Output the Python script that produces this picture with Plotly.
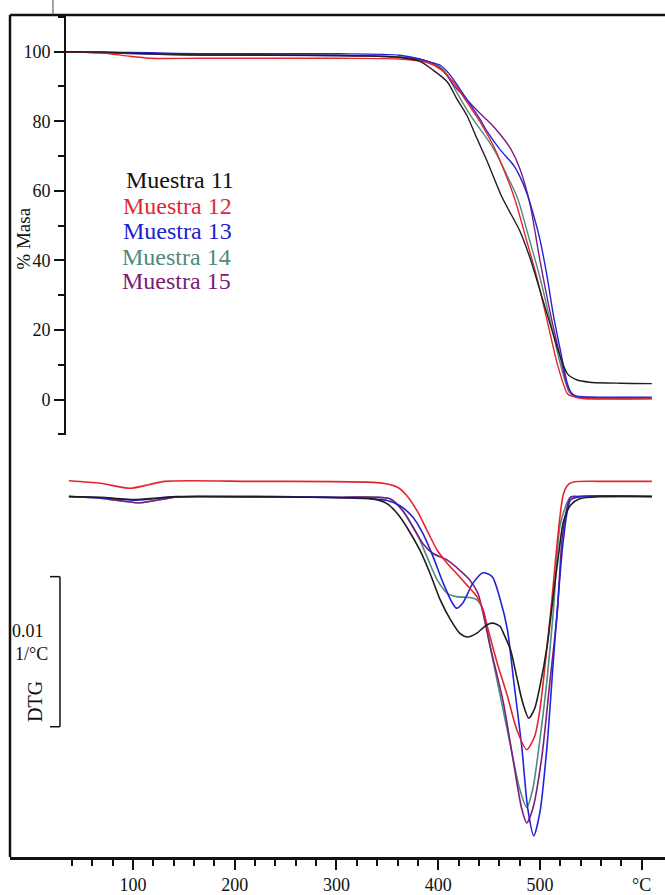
import plotly.graph_objects as go

# ---------------- data ----------------
# TGA (% mass) vs temperature (°C)
tga_T_11 = [33, 68, 117, 166, 264, 333, 362, 382, 395, 409, 418, 428, 438, 448, 463, 480, 490, 500, 510, 520, 527, 536, 549, 579, 610]
tga_M_11 = [100.0, 99.9, 99.4, 99.1, 99.0, 98.8, 98.4, 97.2, 94.7, 91.3, 86.6, 81.8, 75.1, 68.6, 58.0, 48.6, 40.9, 31.4, 21.7, 12.3, 7.4, 5.7, 5.0, 4.7, 4.6]

tga_T_12 = [33, 68, 97, 117, 166, 303, 362, 389, 402, 415, 428, 441, 454, 461, 475, 487, 497, 507, 517, 527, 532, 539, 569, 610]
tga_M_12 = [100.0, 99.7, 98.7, 98.1, 98.1, 98.1, 97.9, 96.9, 95.0, 91.2, 85.6, 79.9, 73.1, 68.5, 57.9, 45.6, 35.1, 22.8, 10.3, 1.7, 0.9, 0.4, 0.2, 0.2]

tga_T_13 = [33, 117, 166, 303, 362, 382, 389, 402, 412, 421, 434, 441, 448, 461, 474, 480, 488, 495, 500, 507, 513, 520, 527, 532, 539, 559, 610]
tga_M_13 = [100.0, 99.7, 99.4, 99.4, 99.0, 97.9, 97.2, 96.1, 93.2, 89.4, 83.7, 80.6, 77.1, 71.8, 67.4, 64.3, 58.6, 51.7, 46.0, 35.4, 24.6, 14.3, 4.6, 1.4, 0.9, 0.7, 0.7]

tga_T_14 = [33, 117, 166, 303, 362, 389, 402, 409, 418, 434, 448, 458, 468, 478, 490, 500, 510, 520, 529, 535, 544, 610]
tga_M_14 = [100.0, 99.3, 99.0, 98.9, 98.4, 97.3, 95.6, 93.3, 88.4, 80.7, 75.0, 70.2, 64.2, 57.9, 45.6, 35.1, 22.8, 10.3, 2.0, 0.9, 0.3, 0.3]

tga_T_15 = [33, 117, 166, 303, 362, 389, 402, 409, 415, 428, 441, 451, 461, 471, 480, 490, 500, 510, 520, 528, 536, 549, 610]
tga_M_15 = [100.0, 99.3, 99.0, 98.9, 98.4, 97.3, 95.3, 93.0, 90.4, 86.3, 82.3, 79.5, 76.2, 72.2, 66.6, 56.5, 40.0, 25.1, 12.3, 3.1, 0.9, 0.6, 0.5]

# DTG (%/°C, curves offset as in the original; 1 %/°C = 0.01 1/°C)
dtg_T_11 = [37, 68, 100, 127, 143, 303, 336, 350, 360, 369, 382, 392, 402, 412, 421, 429, 438, 448, 454, 461, 464, 471, 477, 483, 489, 495, 500, 507, 513, 518, 523, 530, 539, 559, 610]
dtg_D_11 = [-0.002, -0.007, -0.022, -0.010, -0.003, -0.010, -0.018, -0.051, -0.117, -0.205, -0.360, -0.515, -0.691, -0.823, -0.912, -0.938, -0.912, -0.856, -0.846, -0.868, -0.911, -1.022, -1.199, -1.375, -1.479, -1.411, -1.265, -1.000, -0.669, -0.404, -0.172, -0.060, -0.017, -0.003, -0.002]

dtg_T_12 = [37, 68, 97, 117, 131, 215, 343, 360, 369, 379, 389, 399, 409, 418, 428, 438, 444, 449, 458, 468, 477, 487, 495, 500, 507, 512, 517, 523, 528, 534, 559, 610]
dtg_D_12 = [0.103, 0.086, 0.053, 0.079, 0.099, 0.099, 0.089, 0.060, 0.005, -0.095, -0.227, -0.360, -0.448, -0.515, -0.591, -0.669, -0.755, -0.887, -1.113, -1.331, -1.551, -1.689, -1.596, -1.419, -1.000, -0.669, -0.305, 0.013, 0.079, 0.096, 0.099, 0.099]

dtg_T_13 = [37, 68, 104, 136, 166, 303, 350, 362, 375, 385, 395, 405, 414, 418, 424, 434, 444, 453, 461, 468, 474, 482, 488, 494, 500, 507, 513, 518, 523, 530, 539, 610]
dtg_D_13 = [-0.002, -0.010, -0.026, -0.007, -0.002, -0.010, -0.028, -0.062, -0.139, -0.250, -0.404, -0.581, -0.713, -0.746, -0.713, -0.581, -0.510, -0.536, -0.690, -0.889, -1.221, -1.662, -2.081, -2.263, -2.104, -1.662, -1.111, -0.669, -0.291, -0.026, -0.003, -0.002]

dtg_T_14 = [37, 68, 107, 141, 166, 303, 353, 365, 379, 389, 399, 409, 418, 431, 438, 444, 451, 461, 471, 480, 487, 493, 500, 507, 513, 520, 530, 539, 610]
dtg_D_14 = [-0.002, -0.013, -0.044, -0.007, -0.002, -0.007, -0.018, -0.095, -0.250, -0.404, -0.558, -0.647, -0.669, -0.675, -0.691, -0.757, -1.000, -1.331, -1.662, -1.949, -2.073, -1.949, -1.618, -1.219, -0.779, -0.185, -0.007, -0.002, -0.002]

dtg_T_15 = [37, 68, 107, 141, 166, 303, 353, 365, 375, 385, 395, 409, 421, 431, 439, 451, 464, 474, 482, 487, 493, 502, 510, 517, 522, 530, 539, 610]
dtg_D_15 = [-0.002, -0.013, -0.044, -0.007, -0.002, -0.007, -0.018, -0.095, -0.205, -0.316, -0.382, -0.426, -0.492, -0.558, -0.647, -1.000, -1.375, -1.773, -2.081, -2.177, -2.081, -1.728, -1.221, -0.779, -0.272, -0.007, -0.002, -0.002]

names = ["Muestra 11", "Muestra 12", "Muestra 13", "Muestra 14", "Muestra 15"]
colors = ["#1e1e1e", "#e3262d", "#2424d6", "#4e8b80", "#7d1f7d"]

x_major_ticks = [100, 200, 300, 400, 500, 600]
x_major_labels = ["100", "200", "300", "400", "500", "°C"]
x_minor_ticks = [40, 60, 80, 120, 140, 160, 180, 220, 240, 260, 280, 320, 340, 360, 380,
                 420, 440, 460, 480, 520, 540, 560, 580]
y_major_ticks = [0, 20, 40, 60, 80, 100]
y_major_labels = ["0", "20", "40", "60", "80", "100"]

scale_bar_top = -0.536   # %/°C
scale_bar_len = 1.0      # = 0.01 1/°C

# ---------------- figure ----------------
FONT = "Liberation Serif"
INK = "#111111"

tga = [(tga_T_11, tga_M_11), (tga_T_12, tga_M_12), (tga_T_13, tga_M_13),
       (tga_T_14, tga_M_14), (tga_T_15, tga_M_15)]
dtg = [(dtg_T_11, dtg_D_11), (dtg_T_12, dtg_D_12), (dtg_T_13, dtg_D_13),
       (dtg_T_14, dtg_D_14), (dtg_T_15, dtg_D_15)]

order = [3, 4, 2, 1, 0]
fig = go.Figure()
for i in order:
    t, m = tga[i]
    fig.add_trace(go.Scatter(x=t, y=m, xaxis="x2", yaxis="y2", mode="lines",
                             line=dict(color=colors[i], width=1.4, shape="spline", smoothing=0.7),
                             name=names[i], hoverinfo="skip"))
for i in order:
    t, d = dtg[i]
    fig.add_trace(go.Scatter(x=t, y=d, xaxis="x", yaxis="y", mode="lines",
                             line=dict(color=colors[i], width=1.6, shape="spline", smoothing=0.7),
                             name=names[i], hoverinfo="skip"))

xr = [-20.9, 622.9]
fig.update_layout(
    width=665, height=895,
    margin=dict(l=10, r=0, t=15, b=33),
    paper_bgcolor="white", plot_bgcolor="white",
    showlegend=False,
    font=dict(family=FONT, color=INK),
    xaxis=dict(domain=[0, 1], range=xr, anchor="y", showline=True, linecolor=INK, linewidth=2.5,
               ticks="outside", tickvals=x_major_ticks, ticktext=x_major_labels,
               ticklen=10, tickwidth=1.5, tickcolor=INK,
               tickfont=dict(family=FONT, size=18, color=INK),
               minor=dict(tickvals=x_minor_ticks, ticks="outside", ticklen=6, tickwidth=1.5, tickcolor=INK),
               showgrid=False, zeroline=False),
    yaxis=dict(domain=[0, 0.4982], range=[-2.404, 0.391], visible=False),
    xaxis2=dict(domain=[0, 1], range=xr, anchor="y2", visible=False, matches="x"),
    yaxis2=dict(domain=[0.5017, 1], range=[-10.05, 110.55], anchor="free", position=0.084,
                showline=True, linecolor=INK, linewidth=2,
                ticks="outside", tickvals=y_major_ticks, ticktext=y_major_labels,
                ticklen=10, tickwidth=1.5, tickcolor=INK,
                tickfont=dict(family=FONT, size=18, color=INK),
                minor=dict(dtick=10, tick0=0, ticks="outside", ticklen=6, tickwidth=1.5, tickcolor=INK),
                showgrid=False, zeroline=False),
)

shapes = [
    dict(type="line", xref="paper", yref="paper", x0=0, x1=0, y0=0, y1=1, line=dict(color=INK, width=2.5)),
    dict(type="line", xref="paper", yref="paper", x0=0, x1=1, y0=1, y1=1, line=dict(color=INK, width=2.5)),
    dict(type="line", xref="paper", yref="paper", x0=0.0656, x1=0.0656, y0=1, y1=1.0177, line=dict(color="#444", width=1)),
    # scale bar (bracket)
    dict(type="line", xref="paper", yref="y", x0=0.0763, x1=0.0763,
         y0=scale_bar_top, y1=scale_bar_top - scale_bar_len, line=dict(color=INK, width=1.5)),
    dict(type="line", xref="paper", yref="y", x0=0.0611, x1=0.0763,
         y0=scale_bar_top, y1=scale_bar_top, line=dict(color=INK, width=1.5)),
    dict(type="line", xref="paper", yref="y", x0=0.0611, x1=0.0763,
         y0=scale_bar_top - scale_bar_len, y1=scale_bar_top - scale_bar_len, line=dict(color=INK, width=1.5)),
]
fig.update_layout(shapes=shapes)

def px_x(px):
    return (px - 10) / 655.0

def px_y(py):
    return (862 - py) / 847.0

legend_colors = ["#111111", "#e02a30", "#2020d0", "#4e8a80", "#7a1a78"]
legend_y = [181, 207, 232, 258, 283]
legend_x = [124, 121, 121, 120, 120]
ann = []
for name, c, yy, xx in zip(names, legend_colors, legend_y, legend_x):
    ann.append(dict(text=name, xref="paper", yref="paper", x=px_x(xx), y=px_y(yy),
                    xanchor="left", yanchor="middle", showarrow=False,
                    font=dict(family=FONT, size=24, color=c)))
ann.append(dict(text="% Masa", xref="paper", yref="paper", x=px_x(24), y=px_y(240),
                xanchor="center", yanchor="middle", showarrow=False, textangle=-90,
                font=dict(family=FONT, size=19, color=INK)))
ann.append(dict(text="0.01", xref="paper", yref="paper", x=px_x(28), y=px_y(635),
                xanchor="center", yanchor="middle", showarrow=False,
                font=dict(family=FONT, size=18, color=INK)))
ann.append(dict(text="1/°C", xref="paper", yref="paper", x=px_x(31), y=px_y(658),
                xanchor="center", yanchor="middle", showarrow=False,
                font=dict(family=FONT, size=18, color=INK)))
ann.append(dict(text="DTG", xref="paper", yref="paper", x=px_x(35), y=px_y(706),
                xanchor="center", yanchor="middle", showarrow=False, textangle=-90,
                font=dict(family=FONT, size=20, color=INK)))
fig.update_layout(annotations=ann)

fig.write_html("out.html", config={"displayModeBar": False},
               post_script="document.body.style.margin='0px';document.body.style.padding='0px';")
